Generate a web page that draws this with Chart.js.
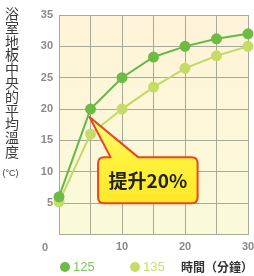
<!DOCTYPE html>
<html>
<head>
<meta charset="utf-8">
<script src="https://cdn.jsdelivr.net/npm/chart.js@4/dist/chart.umd.min.js"></script>
<style>
  html, body { margin: 0; padding: 0; background: #fff; overflow: hidden; }
  #wrap { position: relative; width: 254px; height: 276px; overflow: hidden; font-family: "Noto Sans CJK TC", "Noto Sans", sans-serif; }
  #chart { position: absolute; left: 0; top: 0; }
  #ytitle { position: absolute; left: 3px; top: 7px; width: 18px; font-size: 14px; line-height: 13.8px; color: #3a3a3a; text-align: center; }
  #ytitle .unit { font-size: 9px; line-height: 14px; margin-top: 7px; margin-left: -3px; white-space: nowrap; font-family: "Liberation Sans", sans-serif; }
  .lbl { position: absolute; white-space: nowrap; }
  .dot { position: absolute; width: 10px; height: 10px; border-radius: 50%; }
</style>
</head>
<body>
<div id="wrap">
  <canvas id="chart" width="262" height="276"></canvas>
  <div id="ytitle">浴<br>室<br>地<br>板<br>中<br>央<br>的<br>平<br>均<br>溫<br>度<div class="unit">(°C)</div></div>
  <div class="lbl" style="left:42px; top:241px; font: bold 11px 'Liberation Sans', sans-serif; color:#8a8a8a;">0</div>
  <div class="dot" style="left:60px; top:262px; background:#6dbb45;"></div>
  <div class="lbl" style="left:73px; top:259px; font-size:13px; color:#80c45e; font-family:'Liberation Sans', sans-serif;">125</div>
  <div class="dot" style="left:130px; top:262px; background:#c6dc66;"></div>
  <div class="lbl" style="left:143px; top:259px; font-size:13px; color:#c8dd70; font-family:'Liberation Sans', sans-serif;">135</div>
  <div class="lbl" style="left:181px; top:258px; font-size:12px; font-weight:bold; color:#333;">時間（分鐘）</div>
</div>
<script>
  const minutes = [0, 5, 10, 15, 20, 25, 30];
  const temp125 = [6, 20, 25, 28.3, 30, 31.2, 32];
  const temp135 = [5.2, 16, 20, 23.5, 26.5, 28.5, 30];
  const xTickLabels = [10, 20, 30];
  const yTickLabels = [5, 10, 15, 20, 25, 30, 35];
  const calloutText = "提升20%";

  const toPoints = (vals) => minutes.map((m, i) => ({ x: m, y: vals[i] }));

  // plot background: cream at the top fading to pale yellow-green
  const bgPlugin = {
    id: "bg",
    beforeDraw(chart) {
      const { ctx, chartArea: a } = chart;
      const g = ctx.createLinearGradient(0, a.top, 0, a.bottom);
      g.addColorStop(0, "#fff3d9");
      g.addColorStop(0.45, "#fdf7d8");
      g.addColorStop(1, "#fafadb");
      ctx.save();
      ctx.fillStyle = g;
      ctx.fillRect(a.left, a.top, a.right - a.left, a.bottom - a.top);
      ctx.restore();
    }
  };

  // speech-bubble pointing at the 5 minute point of the 125 series
  const calloutPlugin = {
    id: "callout",
    afterDatasetsDraw(chart) {
      const { ctx, scales: { x, y } } = chart;
      const tipX = x.getPixelForValue(minutes[1]) - 1;
      const tipY = y.getPixelForValue(temp125[1]) + 8;
      const l = x.getPixelForValue(6.2), r = x.getPixelForValue(22);
      const t = y.getPixelForValue(12.3), b = y.getPixelForValue(5);
      const b1 = x.getPixelForValue(8.2), b2 = x.getPixelForValue(12.6);
      const rad = 6;
      ctx.save();
      ctx.beginPath();
      ctx.moveTo(l + rad, t);
      ctx.lineTo(b1, t);
      ctx.lineTo(tipX, tipY);
      ctx.lineTo(b2, t);
      ctx.lineTo(r - rad, t);
      ctx.quadraticCurveTo(r, t, r, t + rad);
      ctx.lineTo(r, b - rad);
      ctx.quadraticCurveTo(r, b, r - rad, b);
      ctx.lineTo(l + rad, b);
      ctx.quadraticCurveTo(l, b, l, b - rad);
      ctx.lineTo(l, t + rad);
      ctx.quadraticCurveTo(l, t, l + rad, t);
      ctx.closePath();
      const g = ctx.createLinearGradient(0, tipY, 0, b);
      g.addColorStop(0, "#fffb8a");
      g.addColorStop(0.5, "#fff23a");
      g.addColorStop(1, "#ffe82a");
      ctx.fillStyle = g;
      ctx.fill();
      ctx.lineWidth = 2;
      ctx.strokeStyle = "#e8461f";
      ctx.lineJoin = "round";
      ctx.stroke();
      ctx.fillStyle = "#222";
      ctx.font = "bold 19px 'Noto Sans CJK TC', sans-serif";
      ctx.textAlign = "center";
      ctx.textBaseline = "middle";
      ctx.fillText(calloutText, (l + r) / 2, (t + b) / 2 + 1);
      ctx.restore();
    }
  };

  const gridColor = "#a9a99a";

  new Chart(document.getElementById("chart"), {
    type: "line",
    data: {
      datasets: [
        {
          label: "125",
          data: toPoints(temp125),
          borderColor: "#62b946",
          backgroundColor: "#6dbb45",
          pointBackgroundColor: "#6dbb45",
          pointBorderColor: "#6dbb45",
          borderWidth: 2,
          pointRadius: 4.5,
          tension: 0,
          clip: false
        },
        {
          label: "135",
          data: toPoints(temp135),
          borderColor: "#c3da62",
          backgroundColor: "#c6dc66",
          pointBackgroundColor: "#c6dc66",
          pointBorderColor: "#c6dc66",
          borderWidth: 2,
          pointRadius: 4.5,
          tension: 0,
          clip: false
        }
      ]
    },
    options: {
      responsive: false,
      animation: false,
      devicePixelRatio: 1,
      layout: { padding: { top: 15, right: 14, left: 0, bottom: 0 } },
      plugins: { legend: { display: false }, tooltip: { enabled: false } },
      scales: {
        x: {
          type: "linear",
          min: 0,
          max: 30,
          afterFit: (s) => { s.height = 41.5; },
          ticks: {
            stepSize: 5,
            padding: 6,
            color: "#8a8a8a",
            font: { family: "Liberation Sans", size: 11, weight: "bold" },
            maxRotation: 0,
            callback: (v) => (xTickLabels.includes(v) ? v : "")
          },
          grid: { color: gridColor, lineWidth: 1, drawTicks: false },
          border: { color: gridColor, width: 1 }
        },
        y: {
          min: 0,
          max: 35,
          afterFit: (s) => { s.width = 59; },
          ticks: {
            stepSize: 5,
            padding: 6,
            color: "#8a8a8a",
            font: { family: "Liberation Sans", size: 11, weight: "bold" },
            callback: (v) => (yTickLabels.includes(v) ? v : "")
          },
          grid: { color: gridColor, lineWidth: 1, drawTicks: false },
          border: { color: gridColor, width: 1 }
        }
      }
    },
    plugins: [bgPlugin, calloutPlugin]
  });
</script>
</body>
</html>
